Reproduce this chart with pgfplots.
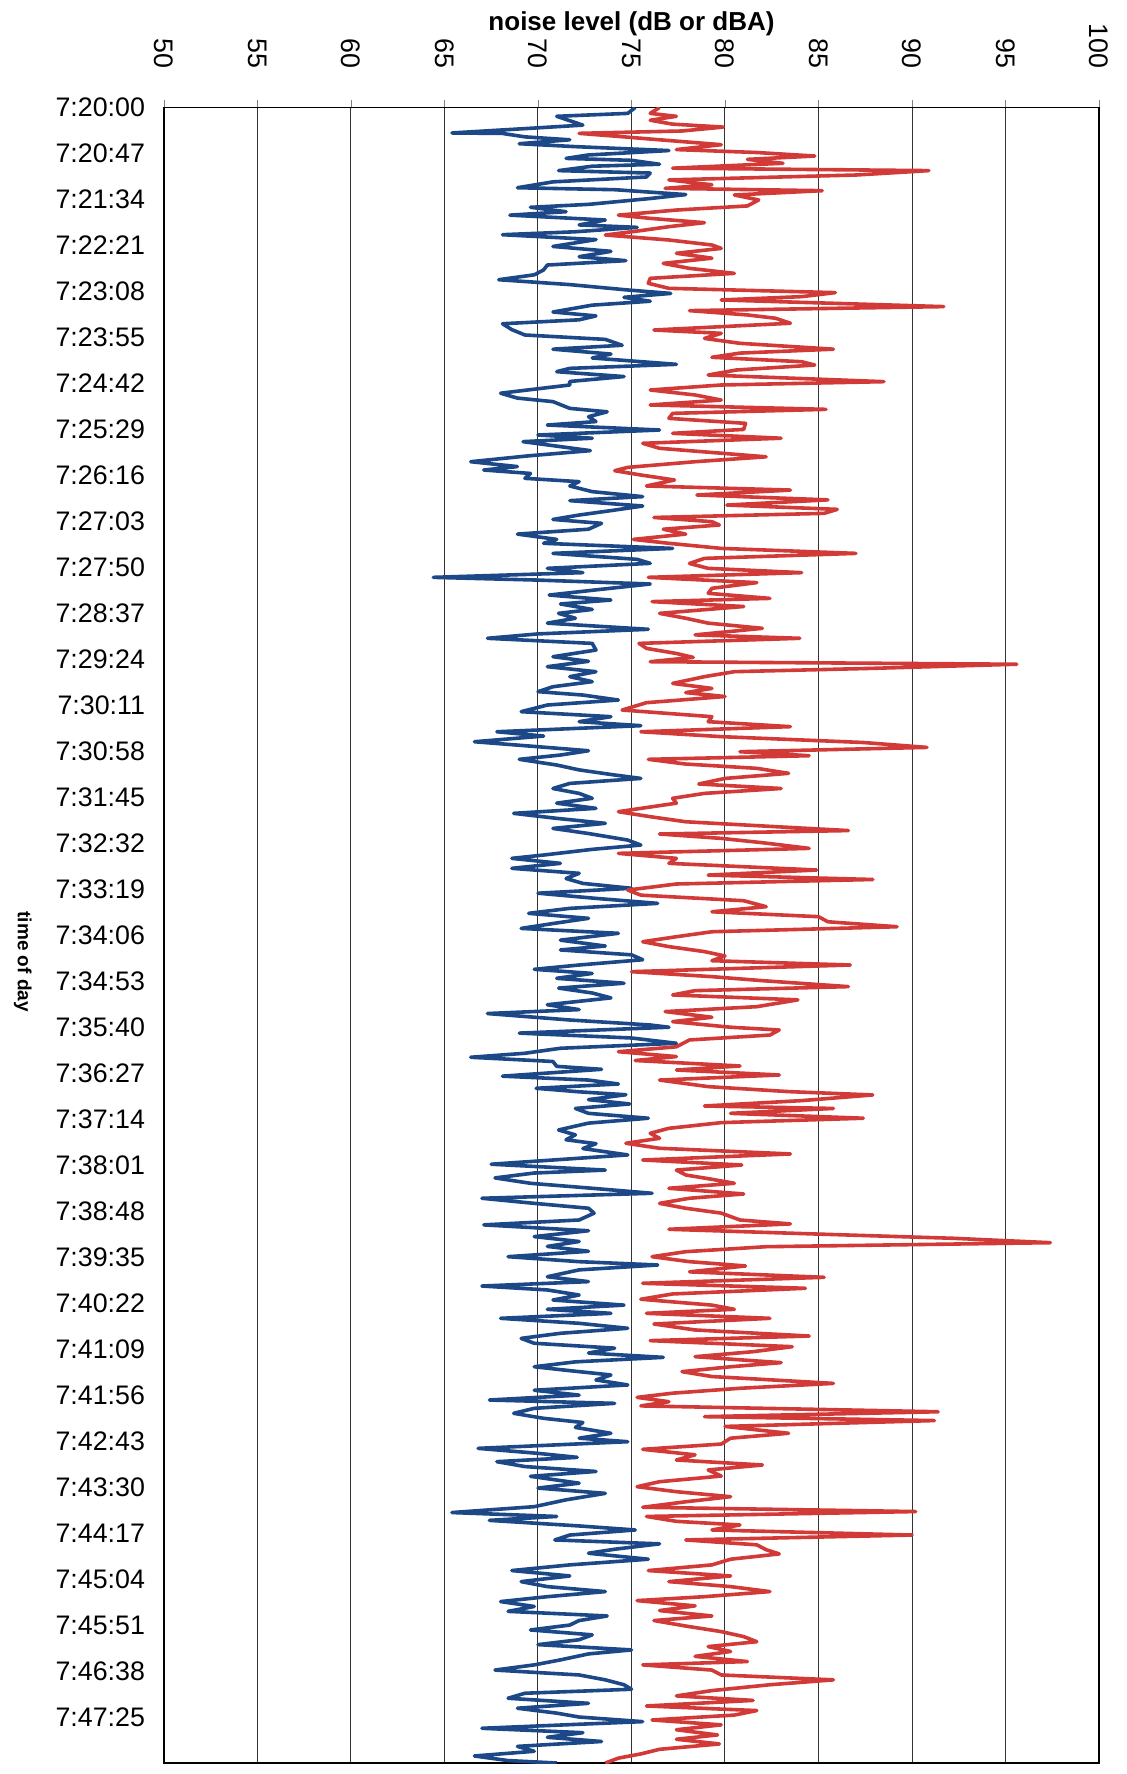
\documentclass[border=0pt]{standalone}
\usepackage{fontspec}
\setmainfont{Liberation Sans}
\usepackage{pgfplots}
\pgfplotsset{compat=1.18}
\definecolor{dbablue}{RGB}{28,72,135}
\definecolor{dbred}{RGB}{210,58,56}
\newcommand{\lblfont}{\fontsize{13.4}{16}\selectfont}
\begin{document}
\begin{tikzpicture}
\begin{axis}[name=ax, scale only axis, width=467.5pt, height=827.75pt,
  xmin=50, xmax=100, ymin=0, ymax=1692, y dir=reverse,
  xtick={50,55,...,100}, xtick pos=upper, xticklabel pos=upper,
  tick align=outside, major tick length=4pt,
  /pgf/number format/assume math mode=true,
  xticklabel style={rotate=-90, anchor=east, font=\lblfont},
  xticklabel shift=12pt,
  ytick={0,47,...,1645},
  yticklabels={7:20:00,7:20:47,7:21:34,7:22:21,7:23:08,7:23:55,7:24:42,7:25:29,7:26:16,7:27:03,7:27:50,7:28:37,7:29:24,7:30:11,7:30:58,7:31:45,7:32:32,7:33:19,7:34:06,7:34:53,7:35:40,7:36:27,7:37:14,7:38:01,7:38:48,7:39:35,7:40:22,7:41:09,7:41:56,7:42:43,7:43:30,7:44:17,7:45:04,7:45:51,7:46:38,7:47:25},
  ytick style={draw=none},
  yticklabel style={font=\lblfont, anchor=east},
  yticklabel shift=2pt,
  xmajorgrids, grid style={black!80, line width=0.5pt},
  axis line style={black, line width=0.9pt},
  xlabel={noise level (dB or dBA)}, ylabel={time of day},
  xlabel style={font=\bfseries\fontsize{13}{15}\selectfont, at={(axis description cs:0.5,1)}, anchor=center, yshift=42pt},
  ylabel style={font=\bfseries\fontsize{9.5}{12}\selectfont, at={(axis description cs:-0.151,0.484)}, anchor=center, rotate=180},
  every axis plot/.append style={line width=1.8pt, line join=round},
]
\addplot[dbablue, mark=none] coordinates {
(75.2,0) (74.8,6) (71.0,9) (72.4,18) (69.8,21) (65.4,26) (68.1,26.5) (69.3,30) (71.7,33) (69.0,37) (72.0,40) (77.0,44) (72.7,48.5) (71.5,52) (75.0,54) (76.5,58) (72.9,60) (71.1,64.5) (76.0,67) (75.8,71) (70.8,76) (68.9,82) (74.1,84) (77.9,89) (76.0,93) (72.7,99) (69.6,102) (71.5,106.5) (68.5,110) (73.6,115) (72.2,120) (75.3,122.5) (72.0,127) (68.1,130) (73.1,135) (70.8,142) (73.9,147) (72.2,152.5) (74.7,156.5) (70.5,161) (70.3,166) (69.8,171) (67.9,176) (71.7,181) (74.8,186.5) (77.1,190) (74.6,194) (76.0,198) (72.9,202) (70.8,209) (73.1,213) (72.2,217) (68.1,221) (68.6,227) (69.3,232.5) (73.6,237) (74.5,243) (70.8,247) (73.9,252) (72.9,256) (77.4,262.5) (71.7,266.6) (71.0,270) (74.6,275) (71.7,280)
(71.7,283.6) (68.0,292) (68.9,297) (70.8,300.6) (71.7,307.5) (73.7,311) (72.7,316) (73.1,321) (70.5,324.5) (76.5,329.6) (70.0,334.7) (72.9,338) (69.2,341.5) (71.2,346.6) (72.8,350.7) (69.5,356) (66.4,362) (68.9,367) (67.1,370.5) (69.6,374) (69.3,379) (72.2,382.4) (71.7,386.8) (72.9,392.6) (75.6,397.7) (71.7,401.8) (75.6,407.3) (73.9,412) (72.2,416.5) (70.8,421) (73.4,425) (72.7,431) (68.9,436) (71.0,441.4) (70.3,445.4) (77.2,450.6) (70.8,455.7) (75.3,461.8) (76.0,465.9) (70.5,471) (72.4,475.4) (64.4,480.2) (70.0,483) (76.0,487) (73.1,493) (70.6,498.3) (73.9,503.4) (71.2,507.4) (72.9,513) (71.1,517) (72.0,522) (70.5,527) (75.9,533.3) (70.0,538) (67.3,542.5) (72.9,547.7) (73.1,554.5) (70.8,561.3) (72.7,566)
(70.5,571.5) (73.1,576.6) (71.7,581.7) (72.9,586.8) (70.8,592) (70.0,597) (72.4,600.5) (74.3,605.6) (70.5,610.7) (69.1,617.5) (73.9,622.6) (72.2,627.7) (75.5,631.8) (67.8,638) (70.3,642.4) (66.6,648.2) (70.0,653.3) (72.7,657.4) (71.2,661.8) (69.0,666.2) (71.0,672) (72.2,677) (74.1,682.2) (75.5,685.7) (71.7,690.8) (70.8,696) (72.2,701) (72.9,706) (71.0,711) (73.1,716.3) (68.7,721.4) (71.0,726.5) (73.6,731.6) (70.8,736.8) (72.7,742) (74.8,748.7) (75.5,753.8) (72.9,758.2) (70.3,764) (68.6,767.4) (71.2,772.5) (68.6,777.6) (72.2,782.7) (71.5,788) (72.4,793) (75.0,798) (70.0,803) (73.1,808.3) (76.4,813.4) (71.7,818.5) (69.5,823.6) (72.7,828.7) (70.8,834) (69.1,839) (74.3,844) (71.2,851)
(73.6,857) (71.2,861) (75.0,866) (75.6,871) (72.2,876.4) (69.8,880.8) (72.9,885) (71.0,890) (74.6,895) (71.1,900) (72.9,905) (73.9,910) (70.5,917) (72.2,922) (67.3,926) (71.7,932.6) (76.0,937.7) (77.0,940) (69.0,946) (75.0,951) (77.4,956.4) (71.2,961.5) (69.3,966.6) (66.4,970.7) (70.8,975) (71.0,980) (73.4,983) (68.1,990) (72.7,994) (74.3,998) (69.9,1002.4) (72.2,1006) (74.7,1009) (72.7,1014) (74.9,1018.4) (72.0,1023) (72.7,1028) (75.9,1033) (72.7,1038) (71.1,1045) (72.0,1050) (71.5,1055) (73.1,1059) (72.4,1064) (74.8,1070.5) (70.8,1075.7) (67.5,1080) (73.6,1086) (69.8,1089) (67.7,1094) (69.6,1099.5) (72.9,1104.6) (76.1,1109.7) (67.0,1114.8) (69.8,1120) (72.7,1125) (73.0,1130) (72.2,1137) (67.1,1142)
(72.7,1148) (69.8,1154) (72.2,1159) (70.5,1164) (72.7,1169) (68.4,1174.5) (72.2,1179.6) (76.4,1183) (72.2,1188) (70.5,1195) (72.7,1200) (67.0,1204.5) (70.5,1208.5) (72.2,1213.7) (70.8,1218.8) (74.6,1224) (70.5,1228.3) (73.9,1232.4) (68.0,1237.5) (72.2,1242.6) (74.8,1247.7) (71.2,1252.8) (69.1,1258) (69.8,1263) (74.1,1268) (72.7,1273) (76.7,1277.4) (72.0,1282) (69.8,1287) (71.7,1291) (73.9,1295.4) (73.1,1300.5) (74.8,1305.6) (69.8,1311) (72.2,1316) (67.4,1321) (74.1,1324.4) (69.8,1329.5) (68.7,1334.6) (70.3,1339.7) (72.4,1344) (72.0,1349) (73.9,1355) (72.2,1360) (74.8,1363.6) (66.8,1370.4) (70.0,1375.5) (72.1,1379.6) (67.8,1384) (69.3,1389) (73.1,1394) (69.6,1399) (72.2,1406) (70.0,1411) (73.6,1416.4) (71.5,1423)
(69.8,1430) (65.4,1436) (71.0,1440) (67.4,1444) (72.2,1449.7) (75.2,1453.8) (71.7,1459) (70.9,1464) (76.5,1468) (74.1,1473.5) (72.7,1477.6) (75.9,1483.7) (71.7,1489.5) (68.6,1495.3) (71.7,1500.8) (69.1,1506.6) (70.5,1511.7) (73.6,1516.8) (70.5,1522) (68.0,1527) (69.8,1532) (68.4,1537) (73.7,1541.7) (72.2,1546.4) (71.7,1551) (69.6,1556) (72.9,1561) (72.2,1566) (70.0,1571) (75.0,1576.4) (72.7,1580.5) (71.2,1586.6) (69.8,1591.7) (67.7,1597) (72.2,1602) (73.6,1607) (74.6,1612) (75.0,1616.6) (69.3,1620.7) (68.4,1625.8) (72.7,1631) (68.9,1636) (71.0,1641) (72.2,1645) (75.6,1649.7) (67.0,1656.5) (72.4,1661) (70.5,1665.7) (73.4,1670) (68.9,1675) (69.8,1680) (66.6,1684.8) (68.4,1689.5) (71.0,1692)
};
\addplot[dbred, mark=none] coordinates {
(76.5,0) (76.0,6) (77.4,9) (76.0,13) (77.2,17) (79.9,20) (77.7,24) (72.2,26.4) (74.6,30) (76.5,33) (79.8,38) (77.4,43) (81.7,46) (84.8,49.6) (81.2,53) (83.1,57) (77.2,62) (90.9,64.5) (87.0,69) (77.0,74) (79.3,79) (76.8,82.6) (85.2,85) (80.5,89.4) (81.8,94.5) (81.2,100.6) (77.4,104.8) (74.3,110) (76.0,113.3) (78.9,117.7) (77.0,121.8) (75.5,125.8) (73.6,130.3) (77.0,135.4) (79.3,140.5) (79.8,144) (77.4,149) (79.3,154) (76.7,159.3) (78.1,164.4) (80.5,169.5) (76.0,174.6) (75.9,179.7) (77.0,184.8) (85.9,189.2) (84.1,193.3) (79.8,196.7) (85.6,200) (91.7,203.5) (78.1,207.6) (81.2,212) (82.7,215.4) (83.5,220.5) (76.2,227.4) (79.8,230.8) (78.9,236) (80.8,241) (85.8,247) (80.8,251) (79.3,255.3) (84.1,259.8) (84.8,263.2) (80.6,268.3) (79.1,273.4) (88.5,280.2)
(79.8,283.6) (76.0,288.7) (78.4,293.8) (79.8,299) (76.0,304) (85.4,308.5) (77.2,312.6) (77.0,317.7) (81.1,322.8) (81.0,329) (77.2,333) (83.0,338) (75.6,343.2) (76.5,348.3) (82.2,357) (78.4,362) (74.8,367.8) (74.1,371.2) (75.5,375.6) (77.3,380.7) (75.8,386.8) (83.5,391) (78.5,396) (85.5,401) (80.1,406.3) (86.0,410.7) (85.3,414.8) (76.2,419) (79.3,423.3) (79.7,426.7) (76.7,431) (77.9,436) (75.1,441.4) (77.0,445.4) (79.8,450.6) (87.0,455.7) (78.9,460.8) (78.1,466) (79.1,471) (84.1,475.4) (75.9,480.2) (81.7,485.6) (79.3,491.4) (79.1,496.5) (82.4,501.7) (76.1,505) (81.0,510) (76.5,517) (77.9,522) (79.1,527) (82.0,532.3) (78.4,539) (84.0,542.5) (75.4,547.7) (75.8,552.8) (77.4,558) (78.3,562) (76.0,566.4) (95.6,569)
(87.9,573.2) (80.5,576.6) (78.9,581.7) (77.2,588.6) (79.3,593.7) (77.9,598) (80.0,602) (75.8,608.3) (74.5,615.8) (79.3,622.6) (79.1,627.7) (83.5,632.8) (75.5,638) (79.8,643) (87.4,649) (90.8,654) (80.8,658.4) (84.5,662.5) (75.9,666.2) (77.9,671) (81.7,675.4) (83.4,680.5) (80.0,685.7) (78.6,691.4) (83.0,696) (78.9,701) (77.2,706) (77.4,711) (74.3,719.7) (76.0,724.8) (77.9,730) (82.7,735) (86.6,739) (76.5,742.5) (79.8,747) (82.0,751.4) (84.5,757.2) (74.3,762.3) (77.4,767.4) (77.0,772.5) (84.9,779.3) (79.1,784.5) (87.9,789) (77.4,793.6) (74.8,799.8) (75.5,805) (81.0,810.7) (82.2,816.8) (79.3,822) (85.0,827) (85.5,832.2) (89.2,837.3) (79.3,842.4) (77.4,847.5) (75.6,852.6)
(77.0,857.6) (78.9,862.7) (80.0,867.2) (79.3,872) (86.7,876.4) (75.0,883.2) (79.3,888.3) (82.0,892.4) (86.6,898.5) (78.4,902.6) (77.2,907) (83.9,912) (81.7,919) (76.8,924) (79.3,929.8) (77.2,934.3) (80.3,940) (82.9,942.8) (82.4,948) (78.1,953) (77.4,960) (74.3,965) (77.4,970) (75.2,974) (80.8,979.6) (77.4,983.7) (82.9,988.8) (76.5,994) (79.1,1000.7) (83.4,1005.8) (87.9,1009.2) (84.1,1015) (78.9,1020.5) (85.8,1023) (80.3,1028) (87.4,1033) (79.8,1037.5) (77.0,1043.3) (76.0,1048.4) (76.5,1053.5) (74.7,1058.6) (76.5,1063.7) (83.5,1069.5) (75.6,1075.7) (80.9,1080.8) (77.4,1086) (77.9,1091) (79.3,1095.4) (80.5,1099.5) (77.0,1104.6) (81.0,1110.4) (78.1,1114.8) (76.5,1120) (77.9,1125) (79.8,1130) (80.8,1137) (83.5,1141)
(77.0,1146.5) (84.8,1151.3) (92.2,1155.7) (97.4,1160.2) (82.2,1164.3) (77.9,1169.4) (76.1,1174.5) (78.1,1179.6) (81.1,1184) (78.1,1190) (85.3,1195.6) (75.6,1201.7) (84.3,1206.8) (77.2,1212.6) (75.5,1218) (79.3,1224) (80.5,1228.3) (75.8,1232.4) (82.4,1237.5) (76.2,1243.3) (78.4,1249.4) (84.5,1255.6) (76.0,1260.3) (83.6,1266.5) (81.5,1271.6) (78.4,1276.7) (83.0,1282.8) (80.3,1287) (77.7,1292) (79.3,1297) (85.8,1304) (80.8,1309) (77.2,1314) (75.3,1318.3) (77.0,1322.7) (75.5,1327) (91.4,1333) (78.9,1338) (91.2,1342) (80.0,1348) (83.4,1355) (80.3,1360) (79.8,1366) (75.6,1371.4) (78.4,1377) (77.4,1382.3) (82.0,1387.4) (79.1,1392.5) (79.8,1398.7) (76.5,1404.5) (75.3,1409.6) (77.4,1414.7) (80.3,1419.8) (77.9,1425)
(75.6,1430.6) (90.2,1435) (75.8,1440) (77.4,1445) (80.8,1448.7) (79.3,1453.8) (90.0,1459) (77.9,1464) (81.7,1469) (82.2,1474) (82.9,1478.3) (80.3,1483.7) (79.3,1489.5) (75.9,1495.3) (80.3,1500.8) (77.0,1506.6) (80.3,1511.7) (82.4,1516.8) (78.9,1522) (75.3,1526) (78.4,1531.4) (76.5,1536.2) (79.3,1541.7) (76.2,1546.4) (77.9,1552) (79.8,1557.7) (81.0,1562.8) (81.7,1568) (79.1,1573) (80.3,1578) (78.4,1583) (81.2,1588.3) (75.6,1591.7) (79.3,1597) (79.8,1602) (85.8,1607) (82.4,1612) (79.3,1618) (77.4,1623.4) (81.5,1628) (75.8,1633.7) (81.7,1638.4) (80.5,1643) (76.1,1648) (79.8,1653) (77.4,1658) (79.6,1663.3) (77.4,1667.7) (79.7,1672.5) (76.5,1678) (75.5,1682.7) (74.3,1687) (73.6,1692)
};
\end{axis}
\path ([shift={(-82pt,-5.5pt)}]ax.south west) rectangle ([shift={(13.5pt,53.75pt)}]ax.north east);
\end{tikzpicture}
\end{document}
